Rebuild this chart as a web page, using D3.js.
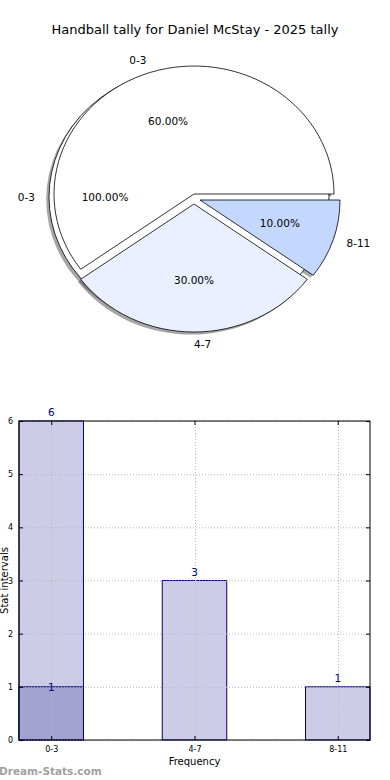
<!DOCTYPE html>
<html>
<head>
<meta charset="utf-8">
<script src="https://cdnjs.cloudflare.com/ajax/libs/d3/7.8.5/d3.min.js"></script>
<style>
  body { margin: 0; background: #fff; }
  svg { display: block; font-family: "DejaVu Sans", sans-serif; }
</style>
</head>
<body>
<svg id="chart" width="390" height="780"></svg>
<script>
// chart data
const title = "Handball tally for Daniel McStay - 2025 tally";
const categories = ["0-3", "4-7", "8-11"];
const tallyShares = [60, 30, 10];          // outer pie, percent
const overlayCats = ["0-3"];
const overlayShares = [100];               // pie drawn underneath
const totalCounts = [6, 3, 1];             // light bars
const overlayCounts = [1, 0, 0];           // dark bars
const yTicks = [0, 1, 2, 3, 4, 5, 6];

const svg = d3.select("#chart");

svg.append("text")
  .attr("x", 195).attr("y", 34)
  .attr("text-anchor", "middle")
  .attr("font-size", 13)
  .text(title);

// ---- pies (elliptical, matplotlib style: ccw from east) ----
const rx = 140, ry = 128;
const pieGen = d3.pie().sort(null)
  .startAngle(Math.PI / 2)
  .endAngle(Math.PI / 2 - 2 * Math.PI);
const unitArc = d3.arc().innerRadius(0).outerRadius(1);

// positions and per-slice nudges
const pies = [
  { cats: overlayCats, vals: overlayShares, cx: 189, cy: 197,
    colors: ["#ffffff"], offsets: [[0, 0]] },
  { cats: categories, vals: tallyShares, cx: 194, cy: 194,
    colors: ["#ffffff", "#eaf0ff", "#c4d8ff"], offsets: [[0, 0], [0, 10], [6, 6]] }
];

const slices = [];
pies.forEach(p => {
  const total = d3.sum(p.vals);
  pieGen(p.vals).forEach((a, i) => {
    slices.push({ arc: a, cat: p.cats[i], pct: a.value / total * 100,
      cx: p.cx + p.offsets[i][0], cy: p.cy + p.offsets[i][1], color: p.colors[i] });
  });
});

const pieLayer = svg.append("g");

// shadows first (below every wedge)
pieLayer.selectAll("path.shadow").data(slices).join("path")
  .attr("class", "shadow")
  .attr("transform", d => `translate(${d.cx - 0.02 * rx},${d.cy + 0.02 * ry}) scale(${rx},${ry})`)
  .attr("d", d => unitArc(d.arc))
  .attr("fill", "#4d4d4d")
  .attr("fill-opacity", 0.5);

pieLayer.selectAll("path.wedge").data(slices).join("path")
  .attr("class", "wedge")
  .attr("transform", d => `translate(${d.cx},${d.cy}) scale(${rx},${ry})`)
  .attr("d", d => unitArc(d.arc))
  .attr("fill", d => d.color)
  .attr("stroke", "#000")
  .attr("stroke-width", 0.8)
  .attr("vector-effect", "non-scaling-stroke");

function midPoint(d, k) {
  const a = (d.arc.startAngle + d.arc.endAngle) / 2;
  return [d.cx + k * rx * Math.sin(a), d.cy - k * ry * Math.cos(a), Math.sin(a)];
}

const pieText = svg.append("g").attr("font-size", 10.5).attr("fill", "#000");
slices.forEach(d => {
  const [lx, ly, s] = midPoint(d, 1.1);
  pieText.append("text")
    .attr("x", lx).attr("y", ly)
    .attr("dy", "0.35em")
    .attr("text-anchor", s < -1e-6 ? "end" : "start")
    .text(d.cat);
  const [px, py] = midPoint(d, 0.6);
  pieText.append("text")
    .attr("x", px).attr("y", py)
    .attr("dy", "0.35em")
    .attr("text-anchor", "middle")
    .text(d3.format(".2f")(d.pct) + "%");
});

// ---- bar chart ----
const plotL = 19, plotR = 370, plotT = 421, plotB = 740;
const barW = 0.45;
const x = d3.scaleLinear().domain([-barW / 2, categories.length - 1 + barW / 2]).range([plotL, plotR]);
const y = d3.scaleLinear().domain([0, 6]).range([plotB, plotT]);

const bars = svg.append("g");
const series = [
  { vals: totalCounts, fill: "#ccccE6", labelDy: -5 },
  { vals: overlayCounts, fill: "#a3a3d1", labelDy: 4 }
];

series.forEach(s => {
  bars.selectAll(null).data(s.vals.map((v, i) => ({ v, i })).filter(d => d.v > 0)).join("rect")
    .attr("x", d => x(d.i - barW / 2))
    .attr("y", d => y(d.v))
    .attr("width", d => x(d.i + barW / 2) - x(d.i - barW / 2))
    .attr("height", d => y(0) - y(d.v))
    .attr("fill", s.fill)
    .attr("stroke", "#000080")
    .attr("stroke-width", 1);
});

// grid
const grid = svg.append("g")
  .attr("stroke", "#b8b8b8").attr("stroke-width", 1)
  .attr("stroke-dasharray", "1,2");
grid.selectAll(null).data(yTicks).join("line")
  .attr("x1", plotL).attr("x2", plotR)
  .attr("y1", d => y(d) + 0.5).attr("y2", d => y(d) + 0.5);
grid.selectAll(null).data(categories).join("line")
  .attr("x1", (d, i) => Math.round(x(i)) + 0.5).attr("x2", (d, i) => Math.round(x(i)) + 0.5)
  .attr("y1", plotT).attr("y2", plotB);

// value labels
series.forEach(s => {
  svg.append("g").selectAll(null)
    .data(s.vals.map((v, i) => ({ v, i })).filter(d => d.v > 0)).join("text")
    .attr("x", d => x(d.i))
    .attr("y", d => y(d.v) + s.labelDy)
    .attr("text-anchor", "middle")
    .attr("font-size", 10.5)
    .attr("fill", "#000080")
    .text(d => d.v);
});

// frame
svg.append("rect")
  .attr("x", plotL).attr("y", plotT)
  .attr("width", plotR - plotL).attr("height", plotB - plotT)
  .attr("fill", "none").attr("stroke", "#000").attr("stroke-width", 1);

// axes with inward ticks
const yAxis = d3.axisLeft(y).tickValues(yTicks).tickFormat(d3.format("d"))
  .tickSizeInner(-4).tickSizeOuter(0).tickPadding(6);
const gy = svg.append("g").attr("transform", `translate(${plotL},0)`).call(yAxis);
const gyR = svg.append("g").attr("transform", `translate(${plotR},0)`)
  .call(d3.axisRight(y).tickValues(yTicks).tickSizeInner(-4).tickSizeOuter(0).tickFormat(""));
const xAxis = d3.axisBottom(x).tickValues(d3.range(categories.length))
  .tickFormat(i => categories[i]).tickSizeInner(-4).tickSizeOuter(0).tickPadding(6);
const gx = svg.append("g").attr("transform", `translate(0,${plotB})`).call(xAxis);
const gxT = svg.append("g").attr("transform", `translate(0,${plotT})`)
  .call(d3.axisTop(x).tickValues(d3.range(categories.length)).tickSizeInner(-4).tickSizeOuter(0).tickFormat(""));
[gy, gyR, gx, gxT].forEach(g => {
  g.select(".domain").remove();
  g.selectAll("text").attr("font-size", 8).attr("font-family", "DejaVu Sans, sans-serif").attr("fill", "#000");
  g.selectAll("line").attr("stroke", "#000");
});

svg.append("text")
  .attr("x", (plotL + plotR) / 2).attr("y", 765)
  .attr("text-anchor", "middle").attr("font-size", 10)
  .text("Frequency");

svg.append("text")
  .attr("transform", `translate(8,${(plotT + plotB) / 2}) rotate(-90)`)
  .attr("text-anchor", "middle").attr("font-size", 10)
  .text("Stat intervals");

svg.append("text")
  .attr("x", -1).attr("y", 775)
  .attr("font-size", 10.5).attr("font-weight", "bold")
  .attr("fill", "#a0a0a0")
  .text("Dream-Stats.com");
</script>
</body>
</html>
